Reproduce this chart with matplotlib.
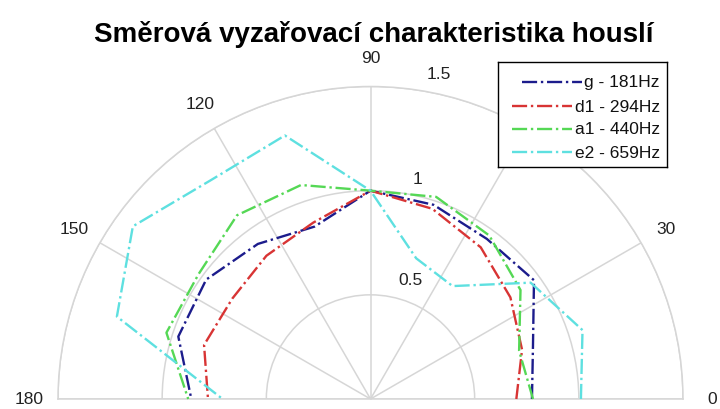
import numpy as np
import matplotlib
matplotlib.use("Agg")
import matplotlib.pyplot as plt
from matplotlib.lines import Line2D

plt.rcParams['font.family'] = ['Liberation Sans', 'DejaVu Sans']

angles_deg = [0, 18, 36, 54, 72, 90, 108, 126, 144, 162, 180]
g_181 = [0.775, 0.82, 0.97, 0.95, 0.98, 1.0, 0.87, 0.92, 0.975, 0.97, 0.86]
d1_294 = [0.70, 0.765, 0.83, 0.90, 0.96, 1.0, 0.89, 0.85, 0.82, 0.84, 0.78]
a1_440 = [0.78, 0.75, 0.89, 0.97, 1.02, 1.0, 1.08, 1.09, 1.02, 1.03, 0.875]
e2_659 = [1.01, 1.07, 0.95, 0.67, 0.71, 1.0, 1.33, 1.30, 1.41, 1.28, 0.71]
labels = ['g - 181Hz', 'd1 - 294Hz', 'a1 - 440Hz', 'e2 - 659Hz']
colors = ['#1c1c8c', '#d83434', '#55d855', '#5ee0e0']
r_ticks = [0.5, 1.0, 1.5]
r_tick_labels = ['0.5', '1', '1.5']
theta_ticks = [0, 30, 60, 90, 120, 150, 180]

W, H = 720, 410
cx, cy, R = 370.5, 400.0, 312.5  # pixel geometry of the half disk
grid_col = '#d6d6d6'

theta = np.deg2rad(angles_deg)

fig = plt.figure(figsize=(7.2, 4.1), dpi=100)
side = 2 * R
left = cx - R
top = cy - R - R / 2  # half-disk is vertically centred in square box
ax = fig.add_axes([left / W, (H - (top + side)) / H, side / W, side / H],
                  projection='polar')
ax.set_thetamin(0)
ax.set_thetamax(180)
ax.set_ylim(0, 1.5)
ax.patch.set_edgecolor('none')
ax.patch.set_linewidth(0)

for vals, lab, c in zip([g_181, d1_294, a1_440, e2_659], labels, colors):
    ax.plot(theta, vals, linestyle='-.', color=c, lw=1.7, label=lab,
            clip_on=False, zorder=3)

ax.set_rticks(r_ticks)
ax.set_yticklabels([])
ax.set_thetagrids(theta_ticks, [str(a) for a in theta_ticks])
ax.grid(True, color=grid_col, lw=1.1)
for name in ['polar', 'start', 'end', 'inner']:
    ax.spines[name].set_color(grid_col)
    ax.spines[name].set_linewidth(1.1)
ax.spines['inner'].set_visible(False)
ax.tick_params(axis='x', labelsize=12.5, pad=14, colors='#222222', length=0)
ax.tick_params(axis='y', length=0, colors=grid_col)

# radial labels (placed like the reference, around 75 degrees)
rlab_pos = [(71.6, 0.607), (77.9, 1.08), (78.2, 1.594)]
for (ang, rr), txt in zip(rlab_pos, r_tick_labels):
    ax.text(np.deg2rad(ang), rr, txt, ha='center', va='center',
            fontsize=12.5, color='#222222', clip_on=False)

# legend drawn in its own pixel-unit axes (right-aligned entries, like MATLAB)
lx0, ly0, lw_, lh_ = 498, 63, 169, 105
lax = fig.add_axes([lx0 / W, (H - ly0 - lh_) / H, lw_ / W, lh_ / H])
lax.set_xlim(0, lw_)
lax.set_ylim(lh_, 0)
lax.set_xticks([])
lax.set_yticks([])
for s in lax.spines.values():
    s.set_color('black')
    s.set_linewidth(1.0)
lax.set_facecolor('white')
lax.set_zorder(10)
row_y = [20, 44, 67, 90]
text_right = 162
for yy, lab, c in zip(row_y, labels, colors):
    lax.text(text_right, yy, lab, ha='right', va='center', fontsize=12.5,
             color='#111111')
fig.canvas.draw()
renderer = fig.canvas.get_renderer()
lax_x0 = lax.get_window_extent(renderer).x0
for yy, c, t in zip(row_y, colors, lax.texts):
    bb = t.get_window_extent(renderer)
    x1 = bb.x0 - lax_x0 - 3
    lax.add_line(Line2D([x1 - 60, x1], [yy, yy], linestyle='-.', color=c,
                        lw=1.7))

fig.text(374 / W, 1 - 35 / H, 'Směrová vyzařovací charakteristika houslí',
         ha='center', va='center', fontsize=20, fontweight='bold')

fig.savefig('out.png', dpi=100)
